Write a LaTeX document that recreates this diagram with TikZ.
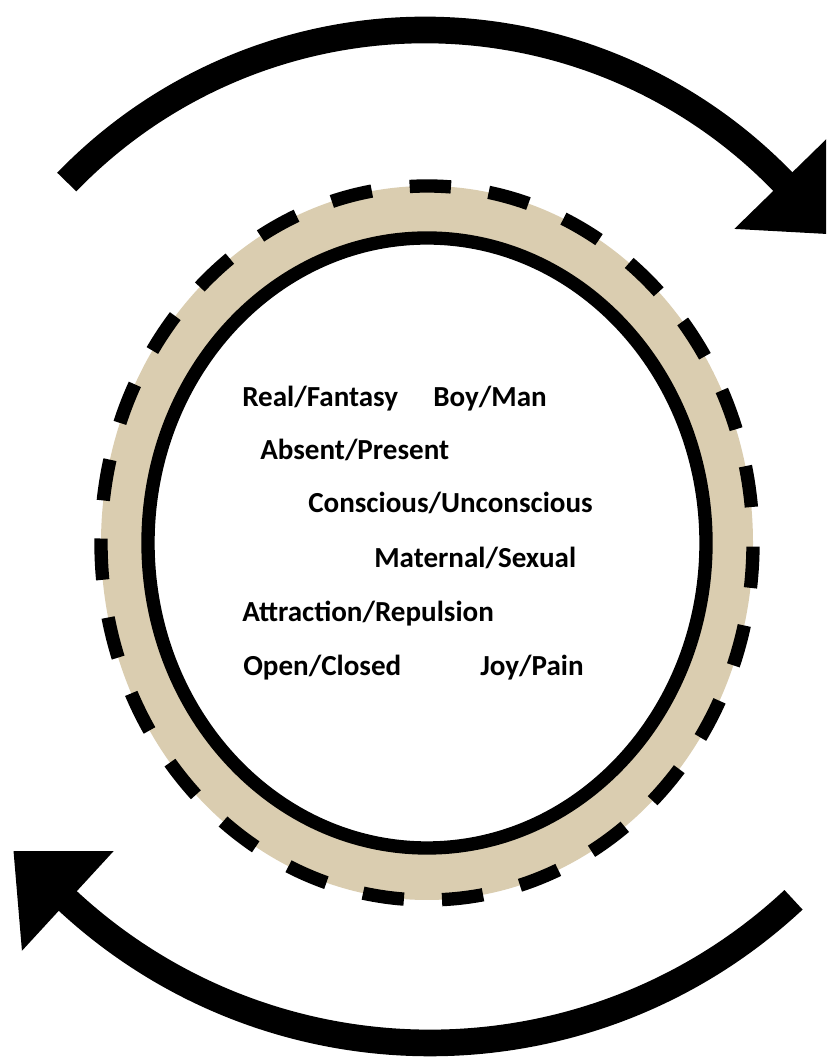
\documentclass[tikz,border=0pt]{standalone}
\usepackage{fontspec}
\setmainfont{Carlito}
\usetikzlibrary{arrows.meta, positioning}

\begin{document}
\begin{tikzpicture}[
      x=0.75pt,
      y=0.75pt,
      font=\bfseries\fontsize{21.8}{26}\selectfont,
      turnarrow/.style={
        -{Triangle[length=55.5pt,width=98pt]},
        draw=black,
        line width=20pt
      },
      ringband/.style={
        fill={rgb,255:red,218;green,205;blue,176},
        draw=black,
        line width=10pt,
        dash pattern=on 31pt off 28.6pt,
        dash phase=32.6pt
      },
      ringwall/.style={
        fill=white,
        draw=black,
        line width=10pt
      },
      polarity/.style={
        anchor=base west,
        inner sep=0pt
      }
    ]
    \useasboundingbox (0,0) rectangle (826,1059);
    \clip (0,0) rectangle (826,1059);

    % Centres
    \coordinate (ring) at (427,516);
    \coordinate (topturn) at (425,531);
    \coordinate (bottomturn) at (430,549);

    % Ring
    \draw[ringband] (ring) ellipse [x radius=326, y radius=357];
    \draw[ringwall] (ring) ellipse [x radius=279, y radius=305];

    % Turning arrows
    \draw[turnarrow] ([shift={(topturn)}]136:498) arc [start angle=136, end angle=44.3, radius=498] -- ++(-45.7:76);
    \draw[turnarrow] ([shift={(bottomturn)}]-47:533) arc [start angle=-47, end angle=-132.6, radius=533] -- ++(137.4:76);

    % Pairs
    \node[polarity] (realfantasy) at (242,652) {Real/Fantasy};
    \node[polarity] (boyman) at (433,652) {Boy/Man};
    \node[polarity] (absentpresent) at (260,599) {Absent/Present};
    \node[polarity] (conscious) at (308,546) {Conscious/Unconscious};
    \node[polarity] (maternalsexual) at (374,491) {Maternal/Sexual};
    \node[polarity] (attraction) at (242,437) {Attraction/Repulsion};
    \node[polarity] (openclosed) at (243,383) {Open/Closed};
    \node[polarity] (joypain) at (480,383) {Joy/Pain};

  \end{tikzpicture}
\end{document}
